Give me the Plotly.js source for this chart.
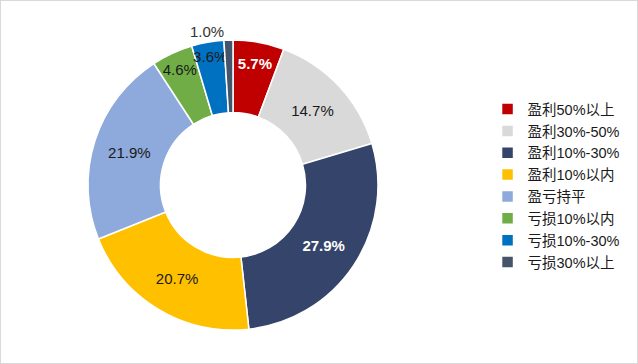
<!DOCTYPE html>
<html><head><meta charset="utf-8">
<script src="https://cdn.plot.ly/plotly-3.0.1.min.js"></script>
<style>html,body{margin:0;padding:0;background:#fff;}#c{width:636px;height:362px;border:1px solid #d9d9d9;}</style>
</head><body><div id="c"></div>
<script>
const categories = ['盈利50%以上','盈利30%-50%','盈利10%-30%','盈利10%以内','盈亏持平','亏损10%以内','亏损10%-30%','亏损30%以上'];
const values = [5.7, 14.7, 27.9, 20.7, 21.9, 4.6, 3.6, 1.0];
const labelsText = ['5.7%','14.7%','27.9%','20.7%','21.9%','4.6%','3.6%','1.0%'];
const colors = ['#C00000','#D9D9D9','#35446A','#FFC000','#8EA9DB','#70AD47','#0070C0','#44546A'];
const textColors = ['#ffffff','#1a1a1a','#ffffff','#1a1a1a','#1a1a1a','#1a1a1a','#1a1a1a','#333333'];
const boldFlags = [true,false,true,false,false,false,false,false];
const textPos = ['inside','inside','inside','inside','inside','inside','inside','outside'];

const trace = {
  type:'pie', labels:categories, values:values, text:labelsText,
  texttemplate:boldFlags.map(b => b ? '<b>%{text}</b>' : '%{text}'),
  textposition:textPos, hole:0.5, sort:false,
  direction:'clockwise', rotation:0,
  marker:{colors:colors, line:{color:'#ffffff', width:1.5}},
  insidetextorientation:'horizontal',
  insidetextfont:{family:'Liberation Sans, Arial, sans-serif', size:15, color:textColors},
  outsidetextfont:{family:'Liberation Sans, Arial, sans-serif', size:15, color:'#333333'},
  domain:{x:[87/636, 377/636], y:[(362-329)/362, (362-39)/362]},
  hoverinfo:'none'
};
const layout = {
  width:636, height:362, margin:{l:0,r:0,t:0,b:0},
  paper_bgcolor:'#ffffff', showlegend:true,
  legend:{x:0.765, y:0.49, xanchor:'left', yanchor:'middle',
    font:{family:'Liberation Sans, Noto Sans CJK SC, sans-serif', size:14.5, color:'#1a1a1a'},
    itemwidth:30, tracegroupgap:0},
  uniformtext:{mode:'show', minsize:15}
};
Plotly.newPlot('c',[trace],layout,{displayModeBar:false, staticPlot:true});
</script></body></html>
